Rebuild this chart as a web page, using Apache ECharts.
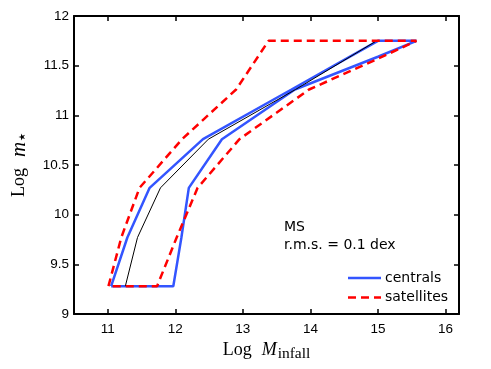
<!DOCTYPE html>
<html><head><meta charset="utf-8">
<script src="https://cdn.jsdelivr.net/npm/echarts@6/dist/echarts.min.js"></script>
<style>html,body{margin:0;padding:0;background:#fff}#c{width:491px;height:369px}</style>
</head><body><div id="c"></div>
<script>
// y bins (Log m*)
var yLevels = [9.28, 9.77, 10.27, 10.76, 11.26, 11.75];
// median (black)
var medianX = [11.26, 11.44, 11.78, 12.49, 13.78, 14.98];
// centrals envelope
var centralsUpperX = [11.05, 11.29, 11.62, 12.41, 13.72, 15.0];
var centralsLowerX = [11.97, 12.09, 12.20, 12.69, 13.77, 15.57];
// satellites envelope
var satUpperX = [11.01, 11.20, 11.47, 12.10, 12.90, 13.38];
var satLowerX = [11.73, 12.02, 12.33, 12.95, 13.98, 15.57];
var satLowerExtra = [15.0, 11.57];
var cenLowerExtra = [15.0, 11.59];
var xTicks = [11, 12, 13, 14, 15, 16];
var yTicks = [9, 9.5, 10, 10.5, 11, 11.5, 12];

function pairs(xs){ return xs.map(function(x,i){ return [x, yLevels[i]]; }); }

var cen = pairs(centralsUpperX);
var cl = pairs(centralsLowerX).reverse();
cen.push(cl[0]); cen.push(cenLowerExtra);
for (var i=1;i<cl.length;i++) cen.push(cl[i]);
cen.push(cen[0]);

var sat = pairs(satUpperX);
var sl = pairs(satLowerX).reverse();
sat.push(sl[0]); sat.push(satLowerExtra);
for (var j=1;j<sl.length;j++) sat.push(sl[j]);
sat.push(sat[0]);

var med = pairs(medianX);

var chart = echarts.init(document.getElementById('c'), null, {renderer:'canvas'});
var axisLine = {show:true, lineStyle:{color:'#000', width:2}};
function ticks(vals){ return {show:true, inside:true, length:5, customValues:vals, lineStyle:{color:'#000', width:1.5}}; }
var labelFont = {color:'#000', fontSize:13.5, fontFamily:'Liberation Sans, Arial, sans-serif'};
var serif = 'Liberation Serif, Times New Roman, serif';
var annFont = '14px DejaVu Sans, sans-serif';
chart.setOption({
  animation:false,
  grid:{left:74, top:16, right:32, bottom:55, show:false},
  xAxis:[{
    type:'value', min:10.5, max:16.2, position:'bottom',
    axisLine:axisLine, axisTick:ticks(xTicks), splitLine:{show:false},
    axisLabel:Object.assign({margin:8, customValues:xTicks}, labelFont),
    name:'{r|Log}{i|M}{s|infall}', nameLocation:'middle', nameGap:24,
    nameTextStyle:{rich:{
      r:{fontFamily:serif, fontSize:18, color:'#000', padding:[0,10,0,0]},
      i:{fontFamily:serif, fontStyle:'italic', fontSize:18, color:'#000'},
      s:{fontFamily:serif, fontSize:15.5, color:'#000', padding:[8,0,0,1]}
    }}
  },{
    type:'value', min:10.5, max:16.2, position:'top',
    axisLine:axisLine, axisLabel:{show:false}, splitLine:{show:false},
    axisTick:ticks(xTicks)
  }],
  yAxis:[{
    type:'value', min:9, max:12, position:'left',
    axisLine:axisLine, axisTick:ticks(yTicks), splitLine:{show:false},
    axisLabel:Object.assign({margin:5, customValues:yTicks, formatter:function(v){return String(v);}}, labelFont),
    name:'{r|Log}{i|m}{s|★}', nameLocation:'middle', nameGap:44, nameRotate:90,
    nameTextStyle:{rich:{
      r:{fontFamily:serif, fontSize:18, color:'#000', padding:[0,11,0,0]},
      i:{fontFamily:serif, fontStyle:'italic', fontSize:21, color:'#000'},
      s:{fontFamily:'DejaVu Sans, sans-serif', fontSize:9, color:'#000', padding:[6,0,0,1]}
    }}
  },{
    type:'value', min:9, max:12, position:'right',
    axisLine:axisLine, axisTick:ticks(yTicks), axisLabel:{show:false}, splitLine:{show:false}
  }],
  graphic:[
    {type:'text', x:284, y:227, style:{text:'MS', fill:'#000', font:annFont, textVerticalAlign:'middle'}},
    {type:'text', x:284, y:245, style:{text:'r.m.s. = 0.1 dex', fill:'#000', font:annFont, textVerticalAlign:'middle'}},
    {type:'line', shape:{x1:348, y1:278, x2:381, y2:278}, style:{stroke:'#3355ff', lineWidth:2.5}},
    {type:'text', x:385, y:278, style:{text:'centrals', fill:'#000', font:annFont, textVerticalAlign:'middle'}},
    {type:'line', shape:{x1:348, y1:297.5, x2:381, y2:297.5}, style:{stroke:'#ff0000', lineWidth:2.5, lineDash:[8,5]}},
    {type:'text', x:385, y:297.5, style:{text:'satellites', fill:'#000', font:annFont, textVerticalAlign:'middle'}}
  ],
  series:[
    {name:'centrals', type:'line', data:cen, symbol:'none', z:2,
     lineStyle:{color:'#3355ff', width:2.5}, itemStyle:{color:'#3355ff'}},
    {name:'median', type:'line', data:med, symbol:'none', z:3,
     lineStyle:{color:'#000', width:1}},
    {name:'satellites', type:'line', data:sat, symbol:'none', z:4,
     lineStyle:{color:'#ff0000', width:2.5, type:[8,5]}, itemStyle:{color:'#ff0000'}}
  ]
});
</script></body></html>
